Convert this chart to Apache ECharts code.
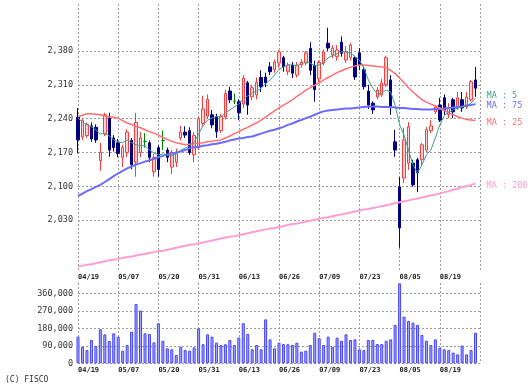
<!DOCTYPE html>
<html>
<head>
<meta charset="utf-8">
<script src="https://cdn.jsdelivr.net/npm/echarts@6/dist/echarts.min.js"></script>
<style>
html,body{margin:0;padding:0;background:#fff;}
#c{width:532px;height:391px;}
</style>
</head>
<body>
<div id="c"></div>
<script>
const dates = ['04/19','04/22','04/23','04/24','04/25','04/26','04/30',
'05/01','05/02','05/07','05/08','05/09','05/10','05/13','05/14','05/15','05/16','05/17','05/20','05/21','05/22','05/23','05/24','05/27','05/28','05/29','05/30','05/31',
'06/03','06/04','06/05','06/06','06/07','06/10','06/11','06/12','06/13','06/14','06/17','06/18','06/19','06/20','06/21','06/24','06/25','06/26','06/27','06/28',
'07/01','07/02','07/03','07/04','07/05','07/08','07/09','07/10','07/11','07/12','07/16','07/17','07/18','07/19','07/22','07/23','07/24','07/25','07/26','07/29','07/30','07/31',
'08/01','08/02','08/05','08/06','08/07','08/08','08/09','08/13','08/14','08/15','08/16','08/19','08/20','08/21','08/22','08/23','08/26','08/27','08/28','08/29',''];

const opens  = [2243,2202,2205,2225,2222,2153,2208,2241,2200,2190,2160,2170,2195,2150,2170,2193,2190,2130,2180,2195,2175,2140,2150,2200,2212,2215,2165,2180,2230,2245,2248,2244,2215,2243,2297,2276,2275,2270,2314,2285,2289,2325,2326,2347,2341,2355,2366,2337,2351,2330,2351,2355,2385,2350,2322,2355,2396,2372,2368,2398,2361,2366,2366,2376,2341,2297,2272,2285,2289,2310,2320,2192,2099,2117,2148,2148,2155,2155,2175,2215,2254,2268,2283,2248,2279,2262,2279,2264,2279,2320];
const highs  = [2262,2240,2232,2232,2228,2190,2252,2252,2206,2198,2186,2218,2200,2252,2212,2210,2195,2168,2185,2215,2180,2175,2178,2225,2224,2222,2212,2245,2287,2290,2258,2250,2250,2300,2306,2292,2280,2330,2318,2310,2325,2340,2335,2357,2362,2382,2370,2356,2357,2357,2363,2380,2398,2360,2360,2383,2428,2392,2392,2410,2390,2396,2370,2386,2348,2310,2276,2305,2322,2370,2330,2217,2119,2221,2233,2155,2159,2190,2223,2237,2268,2283,2290,2272,2283,2295,2295,2295,2320,2347];
const lows   = [2168,2196,2200,2192,2190,2132,2204,2161,2172,2160,2140,2160,2135,2120,2160,2180,2150,2120,2120,2175,2150,2125,2140,2195,2200,2165,2150,2175,2225,2240,2220,2200,2210,2238,2272,2270,2237,2262,2248,2278,2280,2295,2305,2330,2335,2345,2337,2330,2324,2325,2345,2350,2330,2275,2315,2350,2380,2365,2360,2368,2355,2360,2320,2340,2300,2260,2250,2280,2285,2305,2248,2161,1973,2107,2134,2099,2088,2144,2171,2210,2250,2233,2248,2241,2241,2258,2254,2260,2275,2285];
const closes = [2196,2236,2228,2198,2196,2170,2248,2175,2180,2168,2180,2212,2145,2232,2200,2193,2160,2160,2135,2195,2160,2170,2170,2212,2206,2170,2205,2240,2260,2280,2227,2213,2245,2292,2279,2276,2252,2324,2268,2304,2315,2306,2314,2337,2357,2378,2347,2351,2334,2351,2357,2376,2340,2300,2356,2378,2386,2386,2382,2375,2378,2392,2326,2351,2306,2268,2258,2299,2314,2366,2264,2175,2014,2196,2223,2103,2128,2186,2217,2225,2264,2237,2258,2262,2254,2283,2262,2285,2316,2303];

const ma5   = [2241,2233,2227,2223,2217,2208,2210,2204,2196,2192,2190,2196,2190,2186,2184,2184,2175,2169,2165,2167,2165,2163,2167,2175,2179,2184,2192,2208,2225,2237,2241,2244,2244,2252,2258,2264,2270,2281,2287,2293,2297,2303,2312,2320,2330,2341,2347,2351,2351,2349,2353,2357,2355,2349,2351,2355,2366,2370,2374,2378,2378,2376,2368,2361,2345,2320,2303,2291,2293,2299,2295,2268,2227,2206,2175,2144,2128,2144,2165,2175,2200,2227,2246,2254,2258,2262,2264,2266,2272,2283];
const ma25  = [2244,2247,2250,2250,2249,2248,2246,2244,2243,2241,2236,2231,2228,2224,2221,2217,2213,2210,2206,2201,2197,2193,2190,2188,2186,2187,2188,2189,2190,2192,2193,2195,2196,2200,2204,2209,2213,2218,2222,2227,2231,2237,2243,2250,2256,2262,2268,2273,2279,2286,2292,2299,2304,2309,2314,2320,2325,2330,2335,2339,2343,2346,2349,2351,2351,2350,2349,2348,2347,2345,2340,2333,2324,2314,2304,2295,2287,2279,2274,2270,2266,2262,2257,2252,2248,2244,2241,2238,2237,2236];
const ma75  = [2080,2085,2090,2094,2099,2103,2109,2115,2121,2127,2132,2137,2141,2145,2148,2151,2154,2157,2160,2163,2166,2168,2170,2172,2175,2179,2181,2182,2184,2185,2187,2188,2190,2192,2195,2197,2199,2200,2202,2203,2206,2209,2212,2215,2217,2220,2223,2227,2230,2234,2237,2241,2244,2248,2252,2255,2257,2258,2259,2260,2261,2261,2262,2263,2264,2265,2265,2265,2264,2264,2264,2263,2262,2262,2261,2260,2260,2259,2259,2259,2260,2260,2261,2262,2263,2264,2265,2267,2268,2270];
const ma200 = [1934,1936,1938,1939,1941,1943,1945,1947,1948,1950,1952,1954,1955,1957,1959,1960,1962,1964,1966,1967,1969,1971,1973,1975,1977,1979,1980,1982,1984,1986,1988,1990,1992,1994,1996,1997,1999,2001,2003,2005,2007,2009,2011,2013,2014,2016,2018,2020,2022,2023,2025,2027,2029,2031,2033,2035,2036,2038,2040,2042,2044,2046,2048,2050,2052,2053,2055,2057,2059,2061,2063,2065,2067,2069,2071,2073,2075,2077,2079,2081,2083,2085,2088,2090,2093,2095,2098,2100,2103,2106];

const volumes = [137000,85000,68000,120000,89000,175000,149000,115000,154000,137000,65000,94000,163000,305000,271000,154000,151000,108000,206000,116000,77000,72000,43000,85000,68000,65000,82000,180000,98000,149000,137000,106000,94000,98000,120000,94000,132000,206000,151000,72000,94000,72000,226000,123000,77000,106000,99000,98000,94000,106000,60000,65000,94000,157000,129000,94000,137000,85000,132000,116000,149000,120000,123000,72000,68000,120000,120000,99000,99000,116000,123000,197000,411000,240000,218000,209000,197000,146000,116000,94000,123000,80000,72000,68000,55000,46000,91000,46000,68000,157000];

const priceTicks = [2030,2100,2170,2240,2310,2380];
const volumeTicks = [0,90000,180000,270000,360000];

const fmt = v => String(v).replace(/\B(?=(\d{3})+(?!\d))/g, ',');
const mono = 'DejaVu Sans Mono';
const gridLine = {show:true, interval:(i)=> i % 9 === 0, lineStyle:{color:'#9a9a9a', type:[2,2], width:1}};
const hLine = {show:true, lineStyle:{color:'#9a9a9a', type:[2,2], width:1}};

function xAx(g, margin){
  return {type:'category', gridIndex:g, data:dates, boundaryGap:false,
    axisLine:{show:false}, axisTick:{show:false},
    axisLabel:{interval:(i)=> i % 9 === 0, align:'left', fontSize:7, fontWeight:'bold', color:'#222', margin:margin, fontFamily:mono},
    splitLine:gridLine};
}

const candleData = opens.map((o,i)=>[o, closes[i], lows[i], highs[i]]);

function maSeries(name, data, color, width, label, off){
  return {type:'line', name:name, xAxisIndex:0, yAxisIndex:0, data:data, symbol:'none', clip:false,
    lineStyle:{color:color, width:width}, itemStyle:{color:color},
    endLabel:{show:true, formatter:label, color:color, fontSize:8.5, fontFamily:mono, distance:11, offset:off}};
}

const chart = echarts.init(document.getElementById('c'), null, {renderer:'canvas'});
chart.setOption({
  animation:false,
  backgroundColor:'#ffffff',
  grid:[
    {left:78, top:4, width:402, height:266},
    {left:78, top:283, width:402, height:80.3}
  ],
  xAxis:[xAx(0,4), xAx(1,3)],
  yAxis:[
    {type:'value', gridIndex:0, min:1927, max:2477, axisLine:{show:false},
     axisTick:{show:false, customValues:priceTicks},
     axisLabel:{customValues:priceTicks, formatter:fmt, fontSize:8.5, color:'#333', margin:5, fontFamily:mono},
     splitLine:hLine},
    {type:'value', gridIndex:1, min:0, max:413000, axisLine:{show:false},
     axisTick:{show:false, customValues:volumeTicks},
     axisLabel:{customValues:volumeTicks, formatter:fmt, fontSize:8.5, color:'#333', margin:5, fontFamily:mono},
     splitLine:hLine}
  ],
  series:[
    maSeries('MA200', ma200, '#ff9ed2', 2, 'MA : 200', [0,2]),
    maSeries('MA75', ma75, '#6b6bff', 2, 'MA : 75', [0,2]),
    maSeries('MA25', ma25, '#ff6f6f', 1.5, 'MA : 25', [0,2]),
    {type:'candlestick', xAxisIndex:0, yAxisIndex:0, data:candleData, barWidth:3, clip:false,
     itemStyle:{color:'#ffd4d4', color0:'#000080', borderColor:'#ff3b3b', borderColor0:'#000080', borderColorDoji:'#008000', borderWidth:1}},
    maSeries('MA5', ma5, '#3f9f8f', 1, 'MA : 5', [0,-2]),
    {type:'bar', xAxisIndex:1, yAxisIndex:1, data:volumes, barWidth:3, clip:false,
     itemStyle:{color:'#a8a8ff', borderColor:'#4444ff', borderWidth:1}}
  ],
  graphic:[
    {type:'text', left:5, top:376, style:{text:'(C) FISCO', font:'8px "DejaVu Sans Mono"', fill:'#333'}}
  ]
});
</script>
</body>
</html>
